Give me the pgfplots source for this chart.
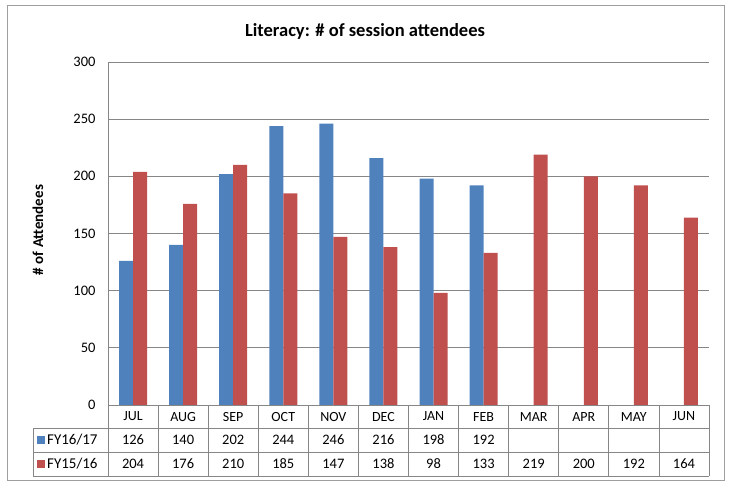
\documentclass[border=0pt]{standalone}
\usepackage{pgfplots}
\pgfplotsset{compat=1.18}
\usepackage{pgfplotstable}
\usepackage{fontspec}
\setmainfont{Carlito}

\definecolor{fyblue}{HTML}{4F81BD}
\definecolor{fyred}{HTML}{C0504D}
\definecolor{linegray}{HTML}{868686}

% attendees per month, nan = no data yet
\pgfplotstableread{
idx fy1617 fy1516
0  126 204
1  140 176
2  202 210
3  244 185
4  246 147
5  216 138
6  198 98
7  192 133
8  nan 219
9  nan 200
10 nan 192
11 nan 164
}\attend

\begin{document}
\begin{tikzpicture}
\useasboundingbox (0,0) rectangle (731pt,-483pt);
\draw[linegray!80, line width=0.8pt] (7pt,-5pt) rectangle (724pt,-480pt);

\node[font=\bfseries\fontsize{18.5}{20}\selectfont] at (365pt,-31pt) {Literacy: \# of session attendees};
\node[font=\bfseries\fontsize{15}{17}\selectfont, rotate=90] at (38pt,-230pt) {\# of Attendees};

\begin{axis}[
    at={(108pt,-405pt)}, anchor=south west,
    width=601pt, height=343pt, scale only axis,
    xmin=-0.5, xmax=11.5,
    ymin=0, ymax=300,
    ytick={0,50,...,300},
    xtick=\empty,
    axis x line=none,
    axis y line*=left,
    axis line style={linegray, line width=0.8pt, -},
    ymajorgrids,
    grid style={linegray, line width=0.8pt},
    major tick length=0pt,
    /pgf/number format/assume math mode=true,
    yticklabel style={font=\fontsize{14.5}{16}\selectfont, xshift=-9pt},
    ybar=0pt, bar width=14pt,
    clip=false,
]
    \addplot[fill=fyblue, draw=none] table[x=idx, y=fy1617] {\attend};
    \addplot[fill=fyred, draw=none] table[x=idx, y=fy1516] {\attend};
\end{axis}

% data table under the chart, in pixel-like units
\begin{scope}[x=1pt, y=-1pt]
\begin{scope}[linegray, line width=0.8pt]
    \draw (108,405) -- (709,405);
    \draw (33,428) -- (709,428);
    \draw (33,452) -- (709,452);
    \draw (33,476) -- (709,476);
    \draw (33,428) -- (33,476);
    \foreach \k in {0,...,12}
        \draw ({108+50.083*\k},405) -- ({108+50.083*\k},476);
\end{scope}

\foreach \m [count=\k from 0] in {JUL,AUG,SEP,OCT,NOV,DEC,JAN,FEB,MAR,APR,MAY,JUN}
    \node[font=\fontsize{14}{16}\selectfont] at ({108+50.083*(\k+0.5)},416.5) {\m};
\foreach \v [count=\k from 0] in {126,140,202,244,246,216,198,192}
    \node[font=\fontsize{14.5}{16}\selectfont] at ({108+50.083*(\k+0.5)},440) {\v};
\foreach \v [count=\k from 0] in {204,176,210,185,147,138,98,133,219,200,192,164}
    \node[font=\fontsize{14.5}{16}\selectfont] at ({108+50.083*(\k+0.5)},464) {\v};

\fill[fyblue] (36.5,436) rectangle (44.5,444);
\fill[fyred] (36.5,460) rectangle (44.5,468);
\node[anchor=west, font=\fontsize{15}{17}\selectfont, inner sep=0pt] at (47,440) {FY16/17};
\node[anchor=west, font=\fontsize{15}{17}\selectfont, inner sep=0pt] at (47,464) {FY15/16};
\end{scope}
\end{tikzpicture}
\end{document}
